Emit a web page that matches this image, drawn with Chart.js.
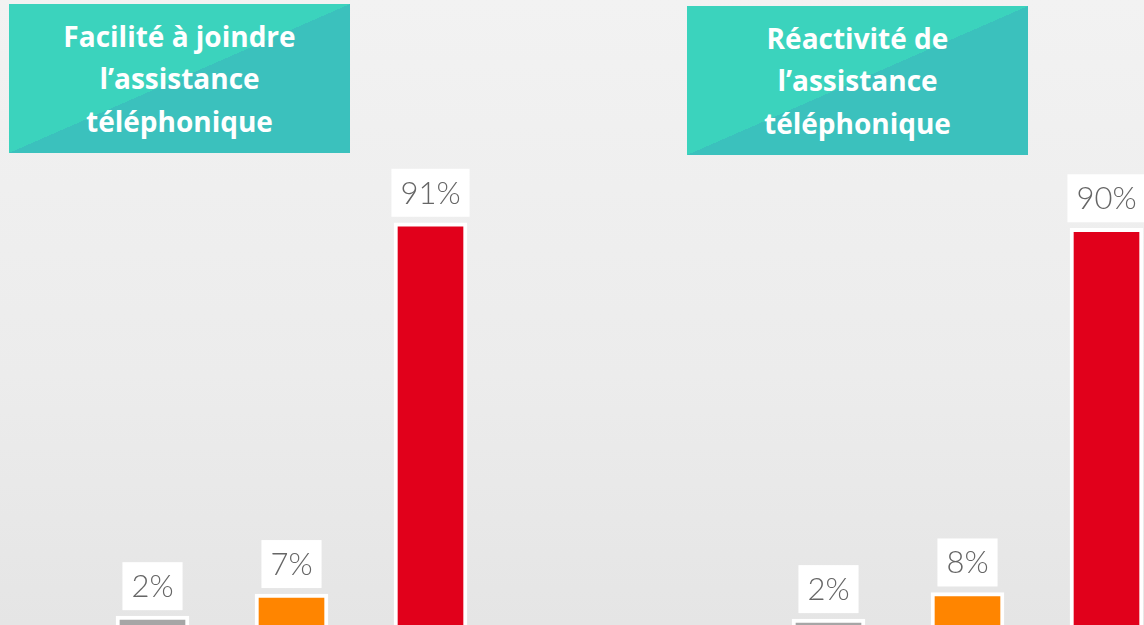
<!DOCTYPE html>
<html lang="fr">
<head>
<meta charset="utf-8">
<script src="https://cdn.jsdelivr.net/npm/chart.js@4.4.0/dist/chart.umd.min.js"></script>
<style>
  html, body { margin: 0; padding: 0; }
  body {
    width: 1144px; height: 625px; overflow: hidden; position: relative;
    background: linear-gradient(to bottom, #f2f2f2 0%, #ececec 60%, #e5e5e5 100%);
    font-family: 'Lato', 'Open Sans', sans-serif;
  }
  .titre {
    position: absolute; width: 341px; height: 149px;
    display: flex; align-items: center; justify-content: center; text-align: center;
    background: linear-gradient(to bottom right, #3bd3bd 50%, #3bc1bd 50%);
    color: #fff; font-family: 'Open Sans', sans-serif; font-weight: 700;
    font-size: 28px; line-height: 42.5px;
  }
  canvas { position: absolute; top: 0; }
</style>
</head>
<body>
<div class="titre" style="left:9px; top:4px;">Facilité à joindre<br>l’assistance<br>téléphonique</div>
<div class="titre" style="left:687px; top:6px;">Réactivité de<br>l’assistance<br>téléphonique</div>
<canvas id="graphJoindre" width="417" height="625" style="left:83px;"></canvas>
<canvas id="graphReactivite" width="417" height="628" style="left:759px;"></canvas>
<script>
document.addEventListener('DOMContentLoaded', function () {
  const categories = ['Catégorie 1', 'Catégorie 2', 'Catégorie 3'];
  const joindreValues = [2, 7, 91];
  const reactiviteValues = [2, 8, 90];
  const couleurs = ['#a6a6a6', '#ff8500', '#e1001b'];

  // étiquettes blanches au-dessus des barres
  const etiquettes = {
    id: 'etiquettes',
    afterDatasetsDraw(chart) {
      const ctx = chart.ctx;
      const meta = chart.getDatasetMeta(0);
      const valeurs = chart.data.datasets[0].data;
      ctx.save();
      ctx.font = '300 31px Lato, "Open Sans", sans-serif';
      ctx.textAlign = 'center';
      ctx.textBaseline = 'middle';
      meta.data.forEach((bar, i) => {
        const texte = valeurs[i] + '%';
        const largeur = ctx.measureText(texte).width + 18;
        const hauteur = 48;
        const bas = bar.y - 6;
        ctx.fillStyle = '#ffffff';
        ctx.fillRect(bar.x - largeur / 2, bas - hauteur, largeur, hauteur);
        ctx.fillStyle = '#666666';
        ctx.fillText(texte, bar.x, bas - hauteur / 2 + 1);
      });
      ctx.restore();
    }
  };

  function creerGraphique(id, valeurs) {
    return new Chart(document.getElementById(id).getContext('2d'), {
      type: 'bar',
      data: {
        labels: categories,
        datasets: [{
          data: valeurs,
          backgroundColor: couleurs,
          borderColor: '#ffffff',
          borderWidth: 4,
          barThickness: 73,
        }],
      },
      options: {
        responsive: false,
        animation: false,
        layout: { padding: 0 },
        plugins: { legend: { display: false }, tooltip: { enabled: false } },
        scales: {
          x: { display: false, offset: true },
          y: { display: false, min: 0, max: 141.4 },
        },
      },
      plugins: [etiquettes],
    });
  }

  creerGraphique('graphJoindre', joindreValues);
  creerGraphique('graphReactivite', reactiviteValues);
});
</script>
</body>
</html>
